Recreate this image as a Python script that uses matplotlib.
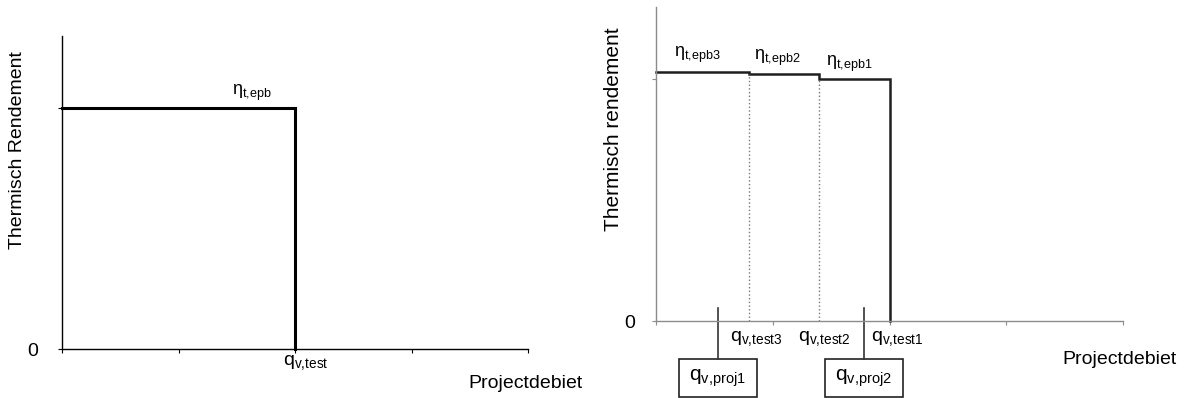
import matplotlib
matplotlib.use("Agg")
import matplotlib.pyplot as plt
from matplotlib.patches import Rectangle

plt.rcParams['font.family'] = ['Liberation Sans', 'DejaVu Sans']
plt.rcParams['mathtext.default'] = 'regular'

# ---- data ----
# left panel: single test point
left_qtest = 2.0
left_eta = 1.0
left_eta_label = r'$\mathregular{\eta_{t{,}epb}}$'
left_q_label = r'$\mathregular{q_{v{,}test}}$'

# right panel: three test points (flow, efficiency)
right_qtest = [0.8, 1.4, 2.0]
right_eta = [1.029, 1.021, 1.0]
right_eta_labels = [r'$\mathregular{\eta_{t{,}epb3}}$', r'$\mathregular{\eta_{t{,}epb2}}$',
                    r'$\mathregular{\eta_{t{,}epb1}}$']
right_q_labels = [r'$\mathregular{q_{v{,}test3}}$', r'$\mathregular{q_{v{,}test2}}$',
                  r'$\mathregular{q_{v{,}test1}}$']
proj_x = [0.53, 1.78]
proj_labels = [r'$\mathregular{q_{v{,}proj1}}$', r'$\mathregular{q_{v{,}proj2}}$']

xticks = [0, 1, 2, 3, 4]

W, H = 1184, 398
fig = plt.figure(figsize=(W / 100, H / 100), dpi=100)


def px_axes(x0, x1, y_bottom, y_top):
    return fig.add_axes([x0 / W, (H - y_bottom) / H, (x1 - x0) / W, (y_bottom - y_top) / H])


# ---------------- left panel ----------------
axL = px_axes(62, 528, 349, 36)
axL.set_xlim(0, 4)
axL.set_ylim(0, 313 / 241)
for s in ['top', 'right']:
    axL.spines[s].set_visible(False)
for s in ['left', 'bottom']:
    axL.spines[s].set_color('black')
    axL.spines[s].set_linewidth(1.0)
axL.set_xticks(xticks)
axL.set_xticklabels([])
axL.set_yticks([0, left_eta])
axL.set_yticklabels(['0', ''], fontsize=14)
axL.tick_params(axis='both', length=3, width=0.8, color='black')
axL.tick_params(axis='y', pad=14)
axL.plot([0, left_qtest, left_qtest], [left_eta, left_eta, 0], color='black', lw=2.2,
         solid_joinstyle='miter', clip_on=False)
axL.text(1.63, left_eta + 0.02, left_eta_label, ha='center', va='bottom', fontsize=13)
axL.text(2.09, -0.015, left_q_label, ha='center', va='top', fontsize=14, clip_on=False)
fig.text(525 / W, (H - 383) / H, 'Projectdebiet', ha='center', va='center', fontsize=14)
fig.text(18 / W, (H - 150) / H, 'Thermisch Rendement', ha='center', va='center',
         rotation=90, fontsize=14)

# ---------------- right panel ----------------
axR = px_axes(656, 1123, 321, 7)
axR.set_xlim(0, 4)
axR.set_ylim(0, 314 / 242)
for s in ['top', 'right']:
    axR.spines[s].set_visible(False)
for s in ['left', 'bottom']:
    axR.spines[s].set_color('#8c8c8c')
    axR.spines[s].set_linewidth(1.0)
axR.set_xticks(xticks)
axR.set_xticklabels([])
axR.set_yticks([0, right_eta[-1]])
axR.set_yticklabels(['0', ''], fontsize=14)
axR.tick_params(axis='both', length=3, width=0.8, color='#8c8c8c')
axR.tick_params(axis='y', pad=12)

# step line
xs = [0]
ys = [right_eta[0]]
prev = 0
for q, e in zip(right_qtest, right_eta):
    xs += [prev, q]
    ys += [e, e]
    prev = q
xs.append(right_qtest[-1])
ys.append(0)
axR.plot(xs, ys, color='#1e1e1e', lw=1.8, solid_joinstyle='miter', clip_on=False)
# dotted separators
for i in range(len(right_qtest) - 1):
    axR.plot([right_qtest[i], right_qtest[i]], [0, right_eta[i + 1]],
             color='#777777', lw=1.0, ls=':')

eta_lab_x = [0.35, 1.04, 1.66]
eta_lab_y = [1.058, 1.045, 1.02]
for x, y, lab in zip(eta_lab_x, eta_lab_y, right_eta_labels):
    axR.text(x, y, lab, ha='center', va='bottom', fontsize=13)

q_lab_x = [0.86, 1.44, 2.07]
for x, lab in zip(q_lab_x, right_q_labels):
    axR.text(x, -0.033, lab, ha='center', va='top', fontsize=14, clip_on=False)

box_w = 0.67
box_top = -0.157
box_bot = -0.314
for x, lab in zip(proj_x, proj_labels):
    axR.plot([x, x], [0.054, box_top], color='#333333', lw=1.2, clip_on=False)
    axR.add_patch(Rectangle((x - box_w / 2, box_bot), box_w, box_top - box_bot,
                            fill=False, edgecolor='#222222', lw=1.2, clip_on=False))
    axR.text(x, (box_top + box_bot) / 2, lab, ha='center', va='center', fontsize=15,
             clip_on=False)

fig.text(1120 / W, (H - 360) / H, 'Projectdebiet', ha='center', va='center', fontsize=14)
fig.text(614 / W, (H - 129) / H, 'Thermisch rendement', ha='center', va='center',
         rotation=90, fontsize=15)

fig.savefig('out.png', dpi=100)
